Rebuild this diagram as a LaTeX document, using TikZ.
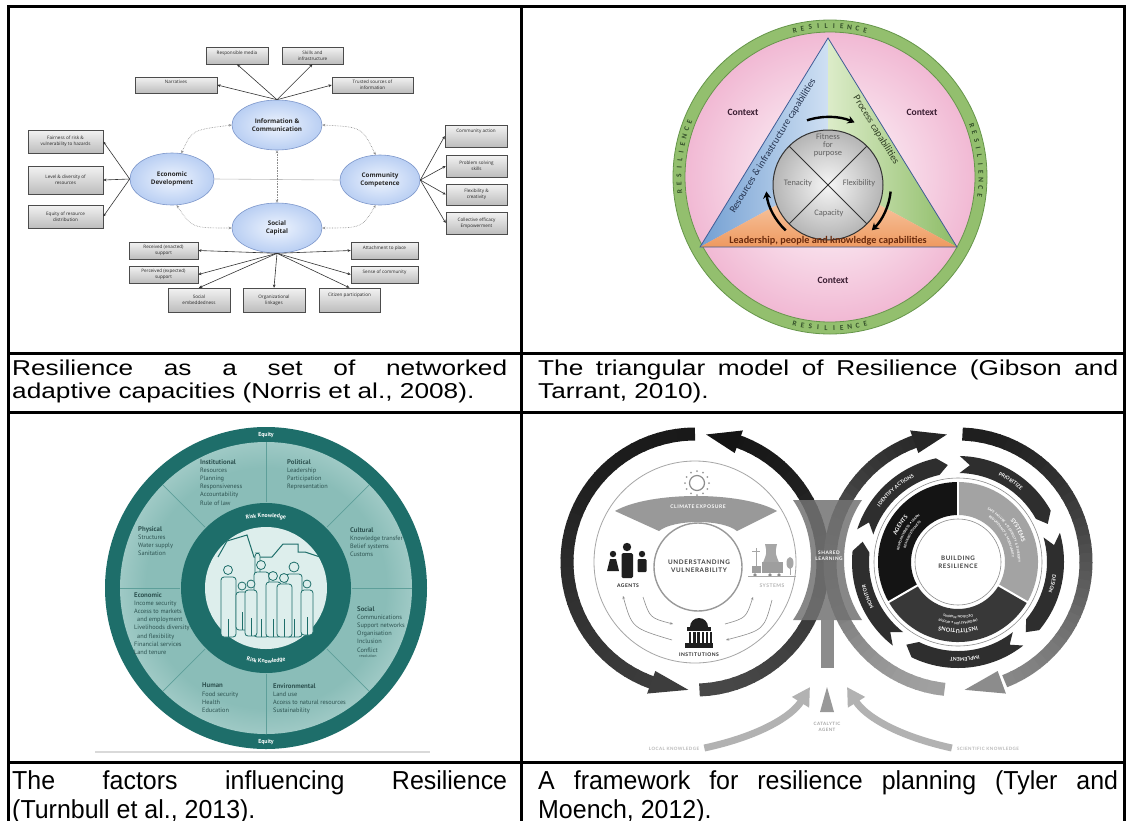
\documentclass[tikz,border=0pt]{standalone}
\usepackage{fontspec}
\setmainfont{Liberation Sans}
\newfontfamily\capA[FakeStretch=1.22]{Liberation Sans}
\newfontfamily\capB[FakeStretch=0.96]{Liberation Sans}
\newfontfamily\nfont{Open Sans}
\newfontfamily\gfont{Carlito}
\newfontfamily\tfont{PT Sans}
\newfontfamily\lfont[LetterSpace=10]{Lato}
\usetikzlibrary{shapes.geometric,arrows.meta,calc,decorations.text,shadows}
\definecolor{ellA}{HTML}{EEF4FE}
\definecolor{ellB}{HTML}{A3BFEE}
\definecolor{ellD}{HTML}{7D97CB}
\definecolor{boxA}{HTML}{F2F2F2}
\definecolor{boxB}{HTML}{BDBDBD}
\definecolor{pinkA}{HTML}{F9E3EE}
\definecolor{pinkB}{HTML}{F0B3D0}
\definecolor{pinkC}{HTML}{E07AAD}
\definecolor{grA}{HTML}{F6F6F6}
\definecolor{grB}{HTML}{9A9A9A}
\definecolor{ringG}{HTML}{93BF6E}
\definecolor{ringD}{HTML}{66964A}
\definecolor{gtxt}{HTML}{34502A}
\definecolor{blueL}{HTML}{739FD2}
\definecolor{blueR}{HTML}{CFE0F3}
\definecolor{greenL}{HTML}{DCECC9}
\definecolor{greenR}{HTML}{8DBC66}
\definecolor{orT}{HTML}{FCDDC0}
\definecolor{orB}{HTML}{EE9960}
\definecolor{triD}{HTML}{3F5C96}
\definecolor{ctxC}{HTML}{3A1E32}
\definecolor{navyT}{HTML}{25334F}
\definecolor{grnT}{HTML}{2E3D22}
\definecolor{brnT}{HTML}{6A2A0C}
\definecolor{tealD}{HTML}{1E6E6A}
\definecolor{tealA}{HTML}{8ABDB8}
\definecolor{tealB}{HTML}{CFE6E4}
\definecolor{tealL}{HTML}{5E9F9A}
\definecolor{tealC}{HTML}{DDEEEC}
\definecolor{tealT}{HTML}{2D5250}
\pgfdeclareradialshading{ellsh}{\pgfpoint{0bp}{0bp}}{color(0bp)=(ellA); color(35.4bp)=(ellB); color(50bp)=(ellB)}
\pgfdeclareradialshading{pinksh}{\pgfpoint{0bp}{0bp}}{color(0bp)=(pinkA); color(10bp)=(pinkA); color(27bp)=(pinkB); color(35.4bp)=(pinkC); color(50bp)=(pinkC)}
\pgfdeclareradialshading{graysh}{\pgfpoint{0bp}{0bp}}{color(0bp)=(grA); color(35.4bp)=(grB); color(50bp)=(grB)}
\pgfdeclareradialshading{tealsh}{\pgfpoint{0bp}{0bp}}{color(0bp)=(tealA); color(20.6bp)=(tealA); color(35.4bp)=(tealB); color(50bp)=(tealB)}
\newcommand\ringword[6]{%
  \foreach \ch [count=\ci from 0] in {#6}{%
    \pgfmathsetmacro\pa{#3+\ci*(#4)}%
    \pgfmathsetmacro\pr{-\pa+(#5)}%
    \node[rl, rotate=\pr] (#1\ci) at ($(GO)+(\pa:#2)$) {\ch};}}
\newcommand\ringhead[6]{%
  \pgfmathsetmacro\rhIn{#2-#3}\pgfmathsetmacro\rhOut{#2+#3}%
  \fill[#6] ($(#1)+(#4:\rhOut)$) -- ($(#1)+(#5:#2)$) -- ($(#1)+(#4:\rhIn)$) -- cycle;}
\newcommand\chev[2]{%
  \pgfmathsetmacro\ctip{#2+6}\pgfmathsetmacro\cnot{#1+6}%
  \fill[black!82] ($(RC)+(#1:106)$) arc[start angle=#1,end angle=#2,radius=106] -- ($(RC)+(\ctip:97.5)$) -- ($(RC)+(#2:89)$) arc[start angle=#2,end angle=#1,radius=89] -- ($(RC)+(\cnot:97.5)$) -- cycle;}
\newcommand\arctext[6]{%
  \path[decorate, decoration={text along path, text align=center, text={|#5|#6}}] ($(#1)+(#3:#2)$) arc[start angle=#3, end angle=#4, radius=#2];}
\begin{document}
\begin{tikzpicture}[x=1pt,y=-1pt,
  tline/.style={line width=3pt, line cap=rect},
  ell/.style={ellipse, draw=ellD, line width=0.6pt, shading=ellsh, font=\nfont\bfseries\fontsize{6.3}{7.3}\selectfont, align=center, inner sep=0pt, text=black!85},
  nbox/.style={rectangle, draw=black!70, line width=0.5pt, top color=boxA, bottom color=boxB, drop shadow={shadow xshift=1.2pt, shadow yshift=-1.2pt, opacity=0.3}, font=\nfont\fontsize{4.6}{5.6}\selectfont, align=center, inner sep=0.5pt, text=black!85},
  nlink/.style={draw=black!80, line width=0.6pt, -{Stealth[length=3.2pt,width=2.8pt]}},
  ndot/.style={draw=black!45, densely dotted, line width=0.6pt, {Stealth[length=3pt,width=2.6pt]}-{Stealth[length=3pt,width=2.6pt]}},
  rl/.style={inner sep=0pt, font=\gfont\bfseries\fontsize{7.4}{7.4}\selectfont, text=gtxt},
  gctx/.style={inner sep=0pt, font=\gfont\bfseries\fontsize{9.6}{10}\selectfont, text=ctxC},
  gedge/.style={inner sep=0pt, font=\gfont\fontsize{10}{10}\selectfont},
  gcir/.style={inner sep=0pt, align=center, font=\gfont\fontsize{8.4}{8.2}\selectfont, text=black!62},
  garr/.style={draw=black, line width=2.4pt, -{Stealth[length=7pt,width=8pt]}},
  tsec/.style={anchor=north west, align=left, inner sep=0pt, font=\tfont\fontsize{6.3}{8.2}\selectfont, text=tealT},
  person/.style={fill=tealC, draw=tealD, line width=0.8pt, rounded corners=3pt},
  tyl/.style={inner sep=0pt, align=center, font=\lfont\bfseries\fontsize{5}{6}\selectfont},
  tsmall/.style={draw=black!45, line width=0.6pt},
  karr/.style={line width=7pt, black!30, -{Triangle[length=18pt,width=19pt]}},
  capt/.style={anchor=base west, inner sep=0pt, font=\capA\fontsize{21.5}{22}\selectfont},
  captb/.style={anchor=base west, inner sep=0pt, font=\capB\fontsize{26}{29}\selectfont}]
\useasboundingbox (0,0) rectangle (1130,820);
\fill[white] (0,0) rectangle (1130,820);

%% ================= Norris et al. =================
\node[ell, minimum width=90pt, minimum height=50pt] (info) at (277,125) {Information \&\\Communication};
\node[ell, minimum width=84pt, minimum height=52pt] (econ) at (172,179) {Economic\\Development};
\node[ell, minimum width=80pt, minimum height=50pt] (comm) at (380,180) {Community\\Competence};
\node[ell, minimum width=90pt, minimum height=50pt] (soc) at (277,228) {Social\\Capital};
\draw[black!25, line width=0.6pt] (econ.east) -- (comm.west);
\draw[ndot] (info.south) -- (soc.north);
\draw[ndot] (econ.70) .. controls (192,130) .. (info.west);
\draw[ndot] (info.east) .. controls (362,127) .. (comm.100);
\draw[ndot] (comm.260) .. controls (362,228) .. (soc.east);
\draw[ndot] (soc.west) .. controls (192,228) .. (econ.280);

\node[nbox, minimum width=62pt, minimum height=17pt] (media) at (237,55.5) {Responsible media\\\mbox{}};
\node[nbox, minimum width=61pt, minimum height=17pt] (skills) at (312.5,55.5) {Skills and\\infrastructure};
\node[nbox, minimum width=82pt, minimum height=16pt] (narrb) at (176,85) {Narratives\\\mbox{}};
\node[nbox, minimum width=81pt, minimum height=16pt] (trusted) at (372.5,85) {Trusted sources of\\information};
\node[nbox, minimum width=75pt, minimum height=23pt] (fair) at (65.5,141.5) {Fairness of risk \&\\vulnerability to hazards};
\node[nbox, minimum width=75pt, minimum height=28pt] (level) at (65.5,180) {Level \& diversity of\\resources};
\node[nbox, minimum width=75pt, minimum height=23pt] (equity) at (65.5,216.5) {Equity of resource\\distribution};
\node[nbox, minimum width=62pt, minimum height=22pt] (action) at (476,136) {Community action\\\mbox{}\\\mbox{}};
\node[nbox, minimum width=61pt, minimum height=22pt] (problem) at (476.5,166) {Problem solving\\skills};
\node[nbox, minimum width=61pt, minimum height=21pt] (flex) at (476.5,194.5) {Flexibility \&\\creativity};
\node[nbox, minimum width=61pt, minimum height=22pt] (coll) at (476.5,223) {Collective efficacy\\Empowerment};
\node[nbox, minimum width=69pt, minimum height=17pt] (recv) at (163.5,250.5) {Received (enacted)\\support};
\node[nbox, minimum width=69pt, minimum height=17pt] (perc) at (163.5,274.5) {Perceived (expected)\\support};
\node[nbox, minimum width=62pt, minimum height=24pt] (embed) at (199,300) {Social\\embeddedness};
\node[nbox, minimum width=62pt, minimum height=24pt] (org) at (274,300) {Organizational\\linkages};
\node[nbox, minimum width=61pt, minimum height=24pt] (citizen) at (349.5,300) {Citizen participation\\\mbox{}\\\mbox{}};
\node[nbox, minimum width=67pt, minimum height=17pt] (attach) at (384.5,250.5) {Attachment to place\\\mbox{}};
\node[nbox, minimum width=67pt, minimum height=17pt] (sense) at (384.5,274.5) {Sense of community\\\mbox{}};

\foreach \t/\a in {media/south, skills/south, narrb/east, trusted/west} \draw[nlink] (info.north) -- (\t.\a);
\foreach \t in {fair,level,equity} \draw[nlink] (econ.west) -- (\t.east);
\foreach \t in {action,problem,flex,coll} \draw[nlink] (comm.east) -- (\t.west);
\foreach \t/\a in {recv/east,perc/east,embed/north,org/north,citizen/north,attach/west,sense/west} \draw[nlink] (soc.south) -- (\t.\a);

%% ================= Gibson and Tarrant =================
\coordinate (GO) at (830,177);
\fill[ringG] (GO) circle[radius=157];
\draw[ringD, line width=0.8pt] (GO) circle[radius=157];
\shadedraw[shading=pinksh, draw=ringD, line width=0.8pt] (GO) circle[radius=145];
\coordinate (GT) at (828,38);
\coordinate (GL) at (700,247);
\coordinate (GR) at (957,247);
\coordinate (GC) at (828,177);
\coordinate (GK) at (828,185);
\shade[left color=blueL, right color=blueR] (GT) -- (GL) -- (GC) -- cycle;
\shade[left color=greenL, right color=greenR] (GT) -- (GR) -- (GC) -- cycle;
\shade[top color=orT, bottom color=orB] (GL) -- (GR) -- (GC) -- cycle;
\draw[triD, line width=0.8pt] (GT) -- (GL) -- (GR) -- cycle;
\shadedraw[shading=graysh, draw=black!80, line width=1pt] (GK) circle[radius=55];
\draw[black!80, line width=1pt] ($(GK)+(45:55)$) -- ($(GK)+(225:55)$) ($(GK)+(135:55)$) -- ($(GK)+(315:55)$);
\draw[garr] ($(GK)+(252:68)$) arc[start angle=252, end angle=293, radius=68];
\draw[garr] ($(GK)+(6:63)$) arc[start angle=6, end angle=46, radius=63];
\draw[garr] ($(GK)+(133:62)$) arc[start angle=133, end angle=174, radius=62];
\node[gctx] (ctx1) at (743,112) {Context};
\node[gctx] (ctx2) at (922,112) {Context};
\node[gctx] (ctx3) at (833,280) {Context};
\node[gedge, rotate=58.5, text=navyT] (resc) at (773,146) {Resources \& infrastructure capabilities};
\node[gedge, rotate=-58.3, text=grnT] (proc) at (876,130) {Process capabilities};
\node[inner sep=0pt, font=\gfont\bfseries\fontsize{10.2}{10}\selectfont, text=brnT] (lead) at (828,241) {Leadership, people and knowledge capabilities};
\node[gcir] (fit) at (828,145) {Fitness\\for\\purpose};
\node[gcir] (ten) at (798,183) {Tenacity};
\node[gcir] (flx) at (859,183) {Flexibility};
\node[gcir] (capy) at (829,213) {Capacity};
\ringword{rt}{151}{256.5}{3.0}{-90}{R,E,S,I,L,I,E,N,C,E}
\ringword{rlf}{151}{174.5}{3.0}{-90}{R,E,S,I,L,I,E,N,C,E}
\ringword{rrt}{151}{340}{3.0}{-90}{R,E,S,I,L,I,E,N,C,E}
\ringword{rb}{151}{103.5}{-3.0}{90}{R,E,S,I,L,I,E,N,C,E}

%% ================= Turnbull et al. =================
\coordinate (TC) at (266,588);
\fill[tealD] (TC) circle[radius=161];
\shade[shading=tealsh] (TC) circle[radius=146];
\foreach \a in {0,45,...,315} \draw[tealL, line width=0.7pt] ($(TC)+(\a:86)$) -- ($(TC)+(\a:146)$);
\fill[tealD] (TC) circle[radius=85];
\fill[tealC] (TC) circle[radius=61];
\draw[tealD, line width=1pt] (218,557) -- (227,541) -- (247,535) -- (254,557) -- (272,557) -- (283,544) -- (298,544) -- (298,552) -- (305,552) -- (320,557);
\draw[person] (221,577) rectangle (236,637);
\draw[person] (228,570) circle[radius=4.5];
\draw[person] (255,553) rectangle (260,580);
\draw[person] (254,572) rectangle (269,637);
\draw[person] (261,565) circle[radius=4.5];
\draw[person] (286,574) rectangle (302,637);
\draw[person] (294,567) circle[radius=5];
\draw[person] (266,582) rectangle (281,637);
\draw[person] (273,576) circle[radius=4.5];
\draw[person] (277,584) rectangle (292,637);
\draw[person] (284,578) circle[radius=4.5];
\draw[person] (236,592) rectangle (249,630);
\draw[person] (242,586) circle[radius=4];
\draw[person] (245,590) rectangle (257,636);
\draw[person] (251,584) circle[radius=4];
\draw[person] (301,590) rectangle (313,635);
\draw[person] (307,584) circle[radius=4];
\foreach \xx/\yy in {228.5/637,261.5/637,294/637,273.5/637,284.5/637,242.5/630,251/636,307/635}
  \draw[tealD, line width=0.7pt] (\xx,\yy-18) -- (\xx,\yy);
\node[inner sep=0pt, text=white, font=\tfont\bfseries\fontsize{5.8}{6}\selectfont] (eq1) at (266,435) {Equity};
\node[inner sep=0pt, text=white, font=\tfont\bfseries\fontsize{5.8}{6}\selectfont] (eq2) at (266,742) {Equity};
\arctext{TC}{71}{235}{305}{\tfont\bfseries\fontsize{5.8}{5.8}\selectfont\color{white}}{Risk Knowledge}
\arctext{TC}{75}{125}{55}{\tfont\bfseries\fontsize{5.8}{5.8}\selectfont\color{white}}{Risk Knowledge}
\node[tsec] (tinst) at (200,459) {{\bfseries\fontsize{6.8}{8.2}\selectfont Institutional}\\Resources\\Planning\\Responsiveness\\Accountability\\Rule of law};
\node[tsec] (tpol) at (287,459) {{\bfseries\fontsize{6.8}{8.2}\selectfont Political}\\Leadership\\Participation\\Representation};
\node[tsec] (tphy) at (138,526) {{\bfseries\fontsize{6.8}{8.2}\selectfont Physical}\\Structures\\Water supply\\Sanitation};
\node[tsec] (tcul) at (350,527) {{\bfseries\fontsize{6.8}{8.2}\selectfont Cultural}\\Knowledge transfer\\Belief systems\\Customs};
\node[tsec] (teco) at (134,592) {{\bfseries\fontsize{6.8}{8.2}\selectfont Economic}\\Income security\\Access to markets\\\hspace*{3pt}and employment\\Livelihoods diversity\\\hspace*{3pt}and flexibility\\Financial services\\Land tenure};
\node[tsec] (tsoc) at (357,606) {{\bfseries\fontsize{6.8}{8.2}\selectfont Social}\\Communications\\Support networks\\Organisation\\Inclusion\\Conflict\\[-2.5pt]{\fontsize{4}{4}\selectfont\hspace*{2pt}resolution}};
\node[tsec] (thum) at (202,683) {{\bfseries\fontsize{6.8}{8.2}\selectfont Human}\\Food security\\Health\\Education};
\node[tsec] (tenv) at (273,683) {{\bfseries\fontsize{6.8}{8.2}\selectfont Environmental}\\Land use\\Access to natural resources\\Sustainability};
\draw[black!15, line width=2pt] (95,752) -- (430,752);

%% ================= Tyler and Moench =================
\coordinate (LC) at (695,562);
\coordinate (RC) at (958,562);
\foreach \aa [evaluate=\aa as \kk using {76+14*(1-sin(\aa))/2}] in {270,266,...,114}{
  \pgfmathsetmacro\ae{\aa-4.6}
  \draw[line width=13pt, black!\kk] ($(LC)+(\aa:128)$) arc[start angle=\aa, end angle=\ae, radius=128];}
\ringhead{LC}{128}{12}{110}{93}{black!76}
\foreach \aa [evaluate=\aa as \kk using {72+20*(1-sin(\aa))/2}] in {88,84,...,-68}{
  \pgfmathsetmacro\ae{\aa-4.6}
  \draw[line width=13pt, black!\kk] ($(LC)+(\aa:128)$) arc[start angle=\aa, end angle=\ae, radius=128];}
\ringhead{LC}{128}{12}{-70}{-85}{black!92}
\foreach \aa [evaluate=\aa as \kk using {37+48*(1-sin(\aa))/2}] in {96,100,...,248}{
  \pgfmathsetmacro\ae{\aa+4.6}
  \draw[line width=13pt, black!\kk] ($(RC)+(\aa:128)$) arc[start angle=\aa, end angle=\ae, radius=128];}
\ringhead{RC}{128}{12}{250}{265}{black!85}
\foreach \aa [evaluate=\aa as \kk using {45+43*(1-sin(\aa))/2}] in {272,276,...,424}{
  \pgfmathsetmacro\ae{\aa+4.6}
  \draw[line width=13pt, black!\kk] ($(RC)+(\aa:128)$) arc[start angle=\aa, end angle=\ae, radius=128];}
\ringhead{RC}{128}{12}{430}{447}{black!45}
\fill[black!55, opacity=0.85] (793,500) -- (862,500) .. controls (838,535) and (838,585) .. (862,620) -- (793,620) .. controls (817,585) and (817,535) .. (793,500) -- cycle;
\node[tyl, text=white, font=\lfont\bfseries\fontsize{4.8}{6}\selectfont] (shl) at (829,556) {SHARED\\LEARNING};
\fill[black!45] (821,620) rectangle (834,668);
\fill[black!40] (820,712) -- (834,712) -- (827,687) -- cycle;
\node[tyl, text=black!35, font=\lfont\bfseries\fontsize{4.5}{5.5}\selectfont] (cat) at (827,727) {CATALYTIC\\AGENT};
\node[tyl, text=black!28, font=\lfont\bfseries\fontsize{4.5}{5.5}\selectfont] (lk) at (674,749) {LOCAL KNOWLEDGE};
\node[tyl, text=black!28, font=\lfont\bfseries\fontsize{4.5}{5.5}\selectfont] (sk) at (988,749) {SCIENTIFIC KNOWLEDGE};
\draw[karr] (lk.east) ++(5,-1) .. controls (760,736) and (792,716) .. (810,687);
\draw[karr] (sk.west) ++(-5,-1) .. controls (897,736) and (865,716) .. (847,687);
\draw[black!35, line width=0.8pt, fill=white] (LC) circle[radius=101];
\fill[black!40] (615,511) .. controls (650,491) and (742,491) .. (777,511) -- (737,531) .. controls (722,519) and (674,519) .. (659,531) -- cycle;
\draw[black!45, line width=1.2pt] (697,483) circle[radius=7.5];
\foreach \a in {0,30,...,330} \fill[black!40] ($(697,483)+(\a:12)$) circle[radius=1];
\node[tyl, text=white] (clim) at (698,507) {CLIMATE EXPOSURE};
\draw[black!40, line width=1.4pt, fill=white] (698,567) circle[radius=44];
\node[tyl, text=black!75, font=\lfont\bfseries\fontsize{6.3}{8}\selectfont] (uv) at (699,566) {UNDERSTANDING\\VULNERABILITY};
\fill[black!88] (627,547) circle[radius=4.2];
\fill[black!88, rounded corners=1.5pt] (621.5,553) rectangle (633,578);
\fill[black!88] (613,554) circle[radius=3.2];
\fill[black!88] (610,559) -- (616,559) -- (619,571) -- (607,571) -- cycle;
\fill[black!88] (642,554) circle[radius=3.2];
\fill[black!88, rounded corners=1pt] (637.5,559) rectangle (646.5,572);
\node[tyl, text=black!85] (agt) at (628,586) {AGENTS};
\fill[black!35] (765,544) -- (777,544) .. controls (775,553) .. (780,565) -- (762,565) .. controls (767,553) .. (765,544) -- cycle;
\fill[black!38] (762,562) rectangle (783,573);
\fill[black!38] (752,566) rectangle (761,573);
\fill[black!45] (755,575) circle[radius=1.8] (770,575) circle[radius=1.8] (779,575) circle[radius=1.8];
\draw[black!35, line width=0.7pt] (756,548) -- (756,566) (752,551) -- (760,551);
\fill[black!35] (790,563) ellipse[x radius=3.5, y radius=6];
\draw[black!35, line width=1pt] (790,566) -- (790,575);
\draw[black!35, line width=0.7pt] (748,576.5) -- (796,576.5);
\node[tyl, text=black!30] (sys) at (772,586) {SYSTEMS};
\fill[black!88] (690,627) arc[start angle=180, end angle=360, radius=9];
\fill[black!88] (687,627) rectangle (711,631);
\foreach \xx in {689,693.2,...,710} \fill[black!88] (\xx,632) rectangle (\xx+2.4,643);
\fill[black!88] (685,643) rectangle (713,648);
\node[tyl, text=black!85] (inst) at (699,655) {INSTITUTIONS};
\draw[tsmall, {Stealth[length=3pt,width=2.6pt]}-] (623,596) .. controls (632,628) .. (672,640);
\draw[tsmall, -{Stealth[length=3pt,width=2.6pt]}] (643,597) .. controls (650,618) .. (673,624);
\draw[tsmall, -{Stealth[length=3pt,width=2.6pt]}] (772,600) .. controls (764,630) .. (726,640);
\draw[tsmall, {Stealth[length=3pt,width=2.6pt]}-] (753,597) .. controls (746,618) .. (725,624);
\fill[black!92] ($(RC)+(150:47)$) arc[start angle=150,end angle=270,radius=47] -- ($(RC)+(270:80)$) arc[start angle=270,end angle=150,radius=80] -- cycle;
\fill[black!36] ($(RC)+(270:47)$) arc[start angle=270,end angle=390,radius=47] -- ($(RC)+(390:80)$) arc[start angle=390,end angle=270,radius=80] -- cycle;
\fill[black!78] ($(RC)+(30:47)$) arc[start angle=30,end angle=150,radius=47] -- ($(RC)+(150:80)$) arc[start angle=150,end angle=30,radius=80] -- cycle;
\foreach \a in {30,150,270} \draw[white, line width=2pt] ($(RC)+(\a:46)$) -- ($(RC)+(\a:81)$);
\draw[black!45, line width=0.6pt] (RC) circle[radius=84];
\draw[black!45, line width=0.6pt] (RC) circle[radius=43];
\chev{198}{258}
\chev{271}{331}
\chev{344}{400}
\chev{52}{116}
\chev{128}{186}
\arctext{RC}{95.5}{200}{258}{\lfont\bfseries\fontsize{5}{5}\selectfont\color{white}}{IDENTIFY ACTIONS}
\arctext{RC}{95.5}{273}{333}{\lfont\bfseries\fontsize{5}{5}\selectfont\color{white}}{PRIORITIZE}
\arctext{RC}{95.5}{346}{400}{\lfont\bfseries\fontsize{5}{5}\selectfont\color{white}}{DESIGN}
\arctext{RC}{95.5}{54}{118}{\lfont\bfseries\fontsize{5}{5}\selectfont\color{white}}{IMPLEMENT}
\arctext{RC}{95.5}{130}{188}{\lfont\bfseries\fontsize{5}{5}\selectfont\color{white}}{MONITOR}
\arctext{RC}{67}{175}{250}{\lfont\bfseries\fontsize{5.6}{5.6}\selectfont\color{white}}{AGENTS}
\arctext{RC}{60}{160}{262}{\lfont\bfseries\fontsize{3.2}{3.2}\selectfont\color{white}}{RESPONSIVENESS • LEARN}
\arctext{RC}{54}{160}{262}{\lfont\bfseries\fontsize{3.2}{3.2}\selectfont\color{white}}{RESOURCEFULNESS}
\arctext{RC}{67}{292}{372}{\lfont\bfseries\fontsize{5.6}{5.6}\selectfont\color{white}}{SYSTEMS}
\arctext{RC}{60}{278}{382}{\lfont\bfseries\fontsize{3.2}{3.2}\selectfont\color{white}}{SAFE FAILURE • FLEXIBILITY {\&} DIVERSITY}
\arctext{RC}{54}{278}{382}{\lfont\bfseries\fontsize{3.2}{3.2}\selectfont\color{white}}{REDUNDANCY {\&} MODULARITY}
\arctext{RC}{67}{40}{140}{\lfont\bfseries\fontsize{5.6}{5.6}\selectfont\color{white}}{INSTITUTIONS}
\arctext{RC}{60}{40}{140}{\lfont\bfseries\fontsize{3.2}{3.2}\selectfont\color{white}}{INFORMATION • ACCESS}
\arctext{RC}{54}{40}{140}{\lfont\bfseries\fontsize{3.2}{3.2}\selectfont\color{white}}{DECISION MAKING}
\node[tyl, text=black!75, font=\lfont\bfseries\fontsize{6.2}{8}\selectfont] (br) at (958,562) {BUILDING\\RESILIENCE};

%% ================= captions =================
\node[capt] (c1a) at (12,375) {\hbox to 495pt{Resilience\hfill as\hfill a\hfill set\hfill of\hfill networked}};
\node[capt] (c1b) at (12,398) {adaptive capacities (Norris et al., 2008).};
\node[capt] (c2a) at (538,375) {\hbox to 580pt{The\hfill triangular\hfill model\hfill of\hfill Resilience\hfill (Gibson\hfill and}};
\node[capt] (c2b) at (538,398) {Tarrant, 2010).};
\node[captb] (c3a) at (12,789) {\hbox to 495pt{The\hfill factors\hfill influencing\hfill Resilience}};
\node[captb] (c3b) at (12,818) {(Turnbull et al., 2013).};
\node[captb] (c4a) at (538,789) {\hbox to 580pt{A\hfill framework\hfill for\hfill resilience\hfill planning\hfill (Tyler\hfill and}};
\node[captb] (c4b) at (538,818) {Moench, 2012).};

%% ================= table rules =================
\draw[tline] (8,6) -- (1124,6);
\draw[tline] (8,353) -- (1124,353);
\draw[tline] (8,412) -- (1124,412);
\draw[tline] (8,762) -- (1124,762);
\draw[tline] (8,6) -- (8,830);
\draw[tline] (521,6) -- (521,830);
\draw[tline] (1124,6) -- (1124,830);
\end{tikzpicture}
\end{document}
